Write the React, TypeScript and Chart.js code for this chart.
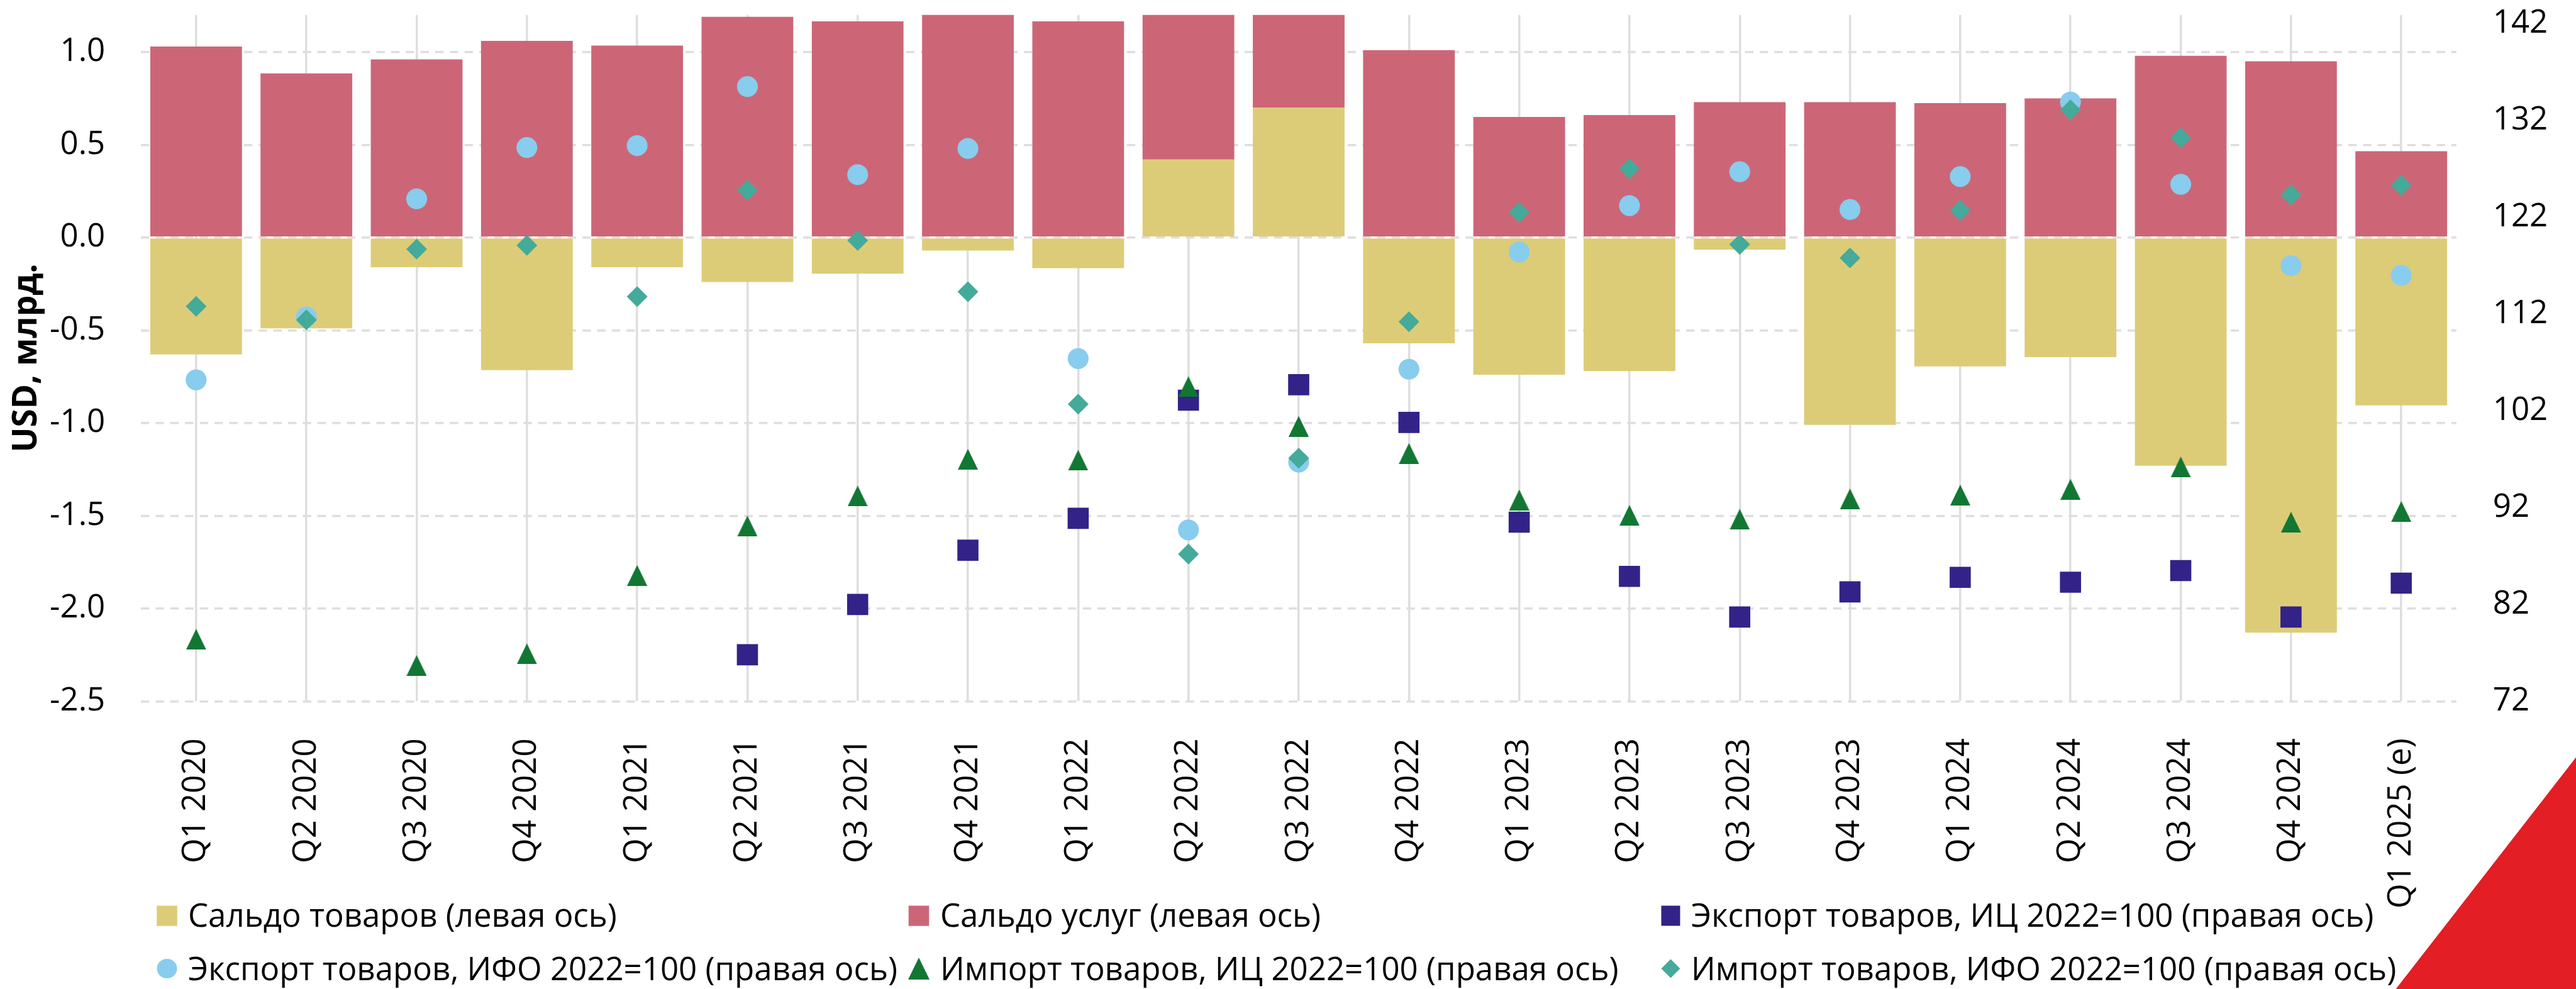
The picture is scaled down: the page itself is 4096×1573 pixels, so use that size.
import React, { useEffect, useRef } from "react";
import { Chart, registerables } from "chart.js";

Chart.register(...registerables);

// ---------- DATA ----------
const categories = [
  "Q1 2020", "Q2 2020", "Q3 2020", "Q4 2020",
  "Q1 2021", "Q2 2021", "Q3 2021", "Q4 2021",
  "Q1 2022", "Q2 2022", "Q3 2022", "Q4 2022",
  "Q1 2023", "Q2 2023", "Q3 2023", "Q4 2023",
  "Q1 2024", "Q2 2024", "Q3 2024", "Q4 2024",
  "Q1 2025 (e)",
];

const goodsBalance = [
  -0.63, -0.49, -0.16, -0.715,
  -0.16, -0.24, -0.195, -0.07,
  -0.165, 0.42, 0.7, -0.57,
  -0.74, -0.72, -0.065, -1.01,
  -0.695, -0.645, -1.23, -2.13,
  -0.905,
];

const servicesBalance = [
  1.03, 0.885, 0.96, 1.06,
  1.035, 1.19, 1.165, 1.22,
  1.165, 0.85, 0.55, 1.01,
  0.65, 0.66, 0.73, 0.73,
  0.725, 0.75, 0.98, 0.95,
  0.465,
];

const exportPriceIdx = [
  null, null, null, null,
  null, 76.8, 82.0, 87.6,
  90.9, 103.1, 104.7, 100.8,
  90.5, 84.9, 80.7, 83.3,
  84.8, 84.3, 85.5, 80.7,
  84.2,
];

const exportVolumeIdx = [
  105.2, 111.7, 123.9, 129.2,
  129.4, 135.5, 126.4, 129.1,
  107.4, 89.7, 96.7, 106.3,
  118.4, 123.2, 126.7, 122.8,
  126.2, 133.9, 125.4, 117.0,
  116.0,
];

const importPriceIdx = [
  78.4, null, 75.7, 76.9,
  85.0, 90.1, 93.2, 97.0,
  96.9, 104.5, 100.4, 97.6,
  92.8, 91.2, 90.8, 92.9,
  93.3, 93.9, 96.2, 90.5,
  91.6,
];

const importVolumeIdx = [
  112.8, 111.4, 118.7, 119.1,
  113.8, 124.8, 119.6, 114.3,
  102.7, 87.2, 97.1, 111.2,
  122.5, 127.0, 119.2, 117.8,
  122.7, 133.1, 130.2, 124.3,
  125.3,
];

const leftTicks = [-2.5, -2.0, -1.5, -1.0, -0.5, 0.0, 0.5, 1.0];
const rightTicks = [72, 82, 92, 102, 112, 122, 132, 142];

const seriesNames = [
  "Сальдо товаров (левая ось)",
  "Сальдо услуг (левая ось)",
  "Экспорт товаров, ИЦ 2022=100 (правая ось)",
  "Экспорт товаров, ИФО 2022=100 (правая ось)",
  "Импорт товаров, ИЦ 2022=100 (правая ось)",
  "Импорт товаров, ИФО 2022=100 (правая ось)",
];

const yTitle = "USD, млрд.";

// ---------- STYLE ----------
const W = 4096;
const H = 1573;
const FONT = "'Open Sans', 'Noto Sans', sans-serif";
const SAND = "#DDCC77";
const ROSE = "#CC6677";
const INDIGO = "#332288";
const CYAN = "#88CCEE";
const GREEN = "#117733";
const TEAL = "#44AA99";
const GRID = "#DEDEDE";
const CORNER_RED = "#E31E24";

const AREA_TOP = 19.3;
const AREA_BOTTOM = 1115.3;
const AREA_LEFT = 224.2;
const AREA_RIGHT = 3905.8;

function makeTriangle(w: number, h: number, color: string) {
  const c = document.createElement("canvas");
  c.width = w;
  c.height = h;
  const g = c.getContext("2d")!;
  g.fillStyle = color;
  g.beginPath();
  g.moveTo(w / 2, 0);
  g.lineTo(w, h);
  g.lineTo(0, h);
  g.closePath();
  g.fill();
  return c;
}

type Marker = "rect" | "square" | "circle" | "triangle" | "diamond";
const legendMarkers: Marker[] = ["rect", "rect", "square", "circle", "triangle", "diamond"];
const legendColors = [SAND, ROSE, INDIGO, CYAN, GREEN, TEAL];

const legendPlugin = {
  id: "customLegend",
  afterDraw(chart: any) {
    const ctx: CanvasRenderingContext2D = chart.ctx;
    ctx.save();
    const markerX = [265.5, 1461, 2656.5];
    const textX = [299, 1495, 2689];
    const markerY = [1456.6, 1540.5];
    const baseY = [1474, 1558.5];
    ctx.font = `51px ${FONT}`;
    ctx.textBaseline = "alphabetic";
    ctx.textAlign = "left";
    seriesNames.forEach((name, i) => {
      const col = i % 3;
      const row = Math.floor(i / 3);
      const cx = markerX[col];
      const cy = markerY[row];
      ctx.fillStyle = legendColors[i];
      ctx.beginPath();
      switch (legendMarkers[i]) {
        case "rect":
          ctx.rect(cx - 16.3, cy - 16.2, 32.6, 32.4);
          break;
        case "square":
          ctx.rect(cx - 15, cy - 16, 30, 32);
          break;
        case "circle":
          ctx.ellipse(cx, cy, 16, 15.5, 0, 0, Math.PI * 2);
          break;
        case "triangle":
          ctx.moveTo(cx, cy - 17.5);
          ctx.lineTo(cx + 17, cy + 17.5);
          ctx.lineTo(cx - 17, cy + 17.5);
          ctx.closePath();
          break;
        case "diamond":
          ctx.moveTo(cx, cy - 15);
          ctx.lineTo(cx + 15, cy);
          ctx.lineTo(cx, cy + 15);
          ctx.lineTo(cx - 15, cy);
          ctx.closePath();
          break;
      }
      ctx.fill();
      ctx.fillStyle = "#000";
      ctx.fillText(name, textX[col], baseY[row]);
    });
    // corner decoration
    ctx.fillStyle = CORNER_RED;
    ctx.beginPath();
    ctx.moveTo(3809.6, H);
    ctx.lineTo(W, 1204.6);
    ctx.lineTo(W, H);
    ctx.closePath();
    ctx.fill();
    ctx.restore();
  },
};

export default function App() {
  const canvasRef = useRef<HTMLCanvasElement | null>(null);

  useEffect(() => {
    const canvas = canvasRef.current;
    if (!canvas) return;
    const tri = makeTriangle(32, 33, GREEN);

    const chart = new Chart(canvas, {
      type: "bar",
      data: {
        labels: categories,
        datasets: [
          {
            type: "bar",
            label: seriesNames[0],
            data: goodsBalance,
            backgroundColor: SAND,
            borderWidth: 0,
            yAxisID: "y",
            order: 10,
            barPercentage: 0.832,
            categoryPercentage: 1.0,
          },
          {
            type: "bar",
            label: seriesNames[1],
            data: servicesBalance,
            backgroundColor: ROSE,
            borderWidth: 0,
            yAxisID: "y",
            order: 11,
            barPercentage: 0.832,
            categoryPercentage: 1.0,
          },
          {
            type: "line",
            label: seriesNames[2],
            data: exportPriceIdx,
            yAxisID: "y1",
            showLine: false,
            order: 4,
            pointStyle: "rect",
            pointRadius: 23.76,
            pointBackgroundColor: INDIGO,
            pointBorderWidth: 0,
            backgroundColor: INDIGO,
            borderColor: INDIGO,
          },
          {
            type: "line",
            label: seriesNames[3],
            data: exportVolumeIdx,
            yAxisID: "y1",
            showLine: false,
            order: 3,
            pointStyle: "circle",
            pointRadius: 16.6,
            pointBackgroundColor: CYAN,
            pointBorderWidth: 0,
            backgroundColor: CYAN,
            borderColor: CYAN,
          },
          {
            type: "line",
            label: seriesNames[4],
            data: importPriceIdx,
            yAxisID: "y1",
            showLine: false,
            order: 2,
            pointStyle: tri,
            pointRadius: 16,
            pointBackgroundColor: GREEN,
            pointBorderWidth: 0,
            backgroundColor: GREEN,
            borderColor: GREEN,
          },
          {
            type: "line",
            label: seriesNames[5],
            data: importVolumeIdx,
            yAxisID: "y1",
            showLine: false,
            order: 1,
            pointStyle: "rectRot",
            pointRadius: 16.5,
            pointBackgroundColor: TEAL,
            pointBorderWidth: 0,
            backgroundColor: TEAL,
            borderColor: TEAL,
          },
        ] as any,
      },
      options: {
        responsive: false,
        animation: false,
        devicePixelRatio: 1,
        events: [],
        layout: { padding: { top: AREA_TOP, left: 0, right: 0, bottom: 0 } },
        plugins: {
          legend: { display: false },
          tooltip: { enabled: false },
        },
        scales: {
          x: {
            type: "category",
            stacked: true,
            offset: true,
            grid: { display: true, offset: false, drawTicks: false, color: GRID, lineWidth: 3.5 },
            border: { display: false },
            ticks: {
              autoSkip: false,
              minRotation: 90,
              maxRotation: 90,
              padding: 59,
              color: "#000",
              font: { family: FONT, size: 51 },
            },
            afterFit: (s: any) => {
              s.height = H - AREA_BOTTOM;
              s.paddingLeft = 0;
              s.paddingRight = 0;
            },
          },
          y: {
            type: "linear",
            position: "left",
            stacked: true,
            min: -2.5,
            max: 1.2,
            afterBuildTicks: (s: any) => {
              s.ticks = leftTicks.map((v) => ({ value: v }));
            },
            grid: { color: GRID, lineWidth: 3.5, drawTicks: false },
            border: { display: false, dash: [13.4, 10] },
            ticks: {
              padding: 57,
              color: "#000",
              font: { family: FONT, size: 51 },
              callback: (v: any) => Number(v).toFixed(1),
            },
            title: {
              display: true,
              text: yTitle,
              color: "#000",
              font: { family: FONT, size: 53, weight: "bold" },
              padding: { top: 11, bottom: 0 },
            },
            afterFit: (s: any) => {
              s.width = AREA_LEFT;
              s.paddingTop = 0;
              s.paddingBottom = 0;
            },
          },
          y1: {
            type: "linear",
            position: "right",
            min: 72,
            max: 142.9,
            afterBuildTicks: (s: any) => {
              s.ticks = rightTicks.map((v) => ({ value: v }));
            },
            grid: { display: false, drawTicks: false },
            border: { display: false },
            ticks: {
              padding: 58,
              color: "#000",
              font: { family: FONT, size: 51 },
              callback: (v: any) => String(v),
            },
            afterFit: (s: any) => {
              s.width = W - AREA_RIGHT;
              s.paddingTop = 0;
              s.paddingBottom = 0;
            },
          },
        },
      } as any,
      plugins: [legendPlugin],
    });

    return () => {
      chart.destroy();
    };
  }, []);

  return (
    <div style={{ width: W, height: H, position: "relative", overflow: "hidden", background: "#fff" }}>
      <style>{"html,body{margin:0;padding:0;background:#fff;overflow:hidden;}"}</style>
      <canvas ref={canvasRef} width={W} height={H} style={{ display: "block", width: W, height: H }} />
    </div>
  );
}
